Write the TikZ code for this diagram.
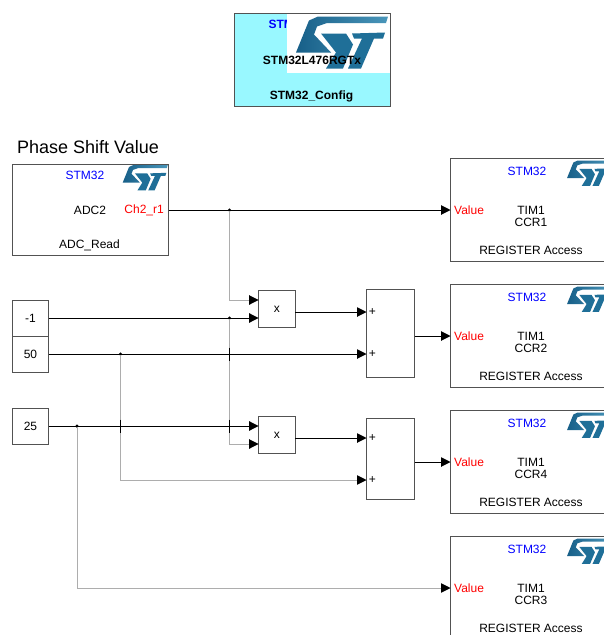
\documentclass[tikz,border=0pt]{standalone}
\usepackage{fontspec}
\setmainfont{Liberation Sans}
\usepackage{tikz}
\usetikzlibrary{arrows.meta}
\definecolor{stblue}{HTML}{1F6F98}
\definecolor{stdark}{HTML}{175F88}
\definecolor{stlight}{HTML}{4A96BA}
\definecolor{cfgcyan}{HTML}{99F8FF}
\tikzset{
  block/.style={draw=black!68,fill=white,line width=.9pt,inner sep=0pt,outer sep=0pt,minimum width=#1},
  txt/.style={inner sep=0pt,font=\fontsize{12}{12}\selectfont},
  boldtxt/.style={inner sep=0pt,font=\fontsize{12}{12}\selectfont\bfseries},
  wire/.style={black,line width=1pt},
  graywire/.style={black!32,line width=.9pt},
  junc/.style={circle,fill=black,inner sep=0pt,minimum size=3.5pt},
  stlogo/.pic={
    \path[left color=stdark,right color=stlight] (92,0) -- (22,0) -- (13,4) -- (0,36) -- (35,36)
      -- (18,18) -- (21,10) -- (31,6.5) -- (90,6.5) -- cycle;
    \fill[stblue] (25,17) -- (50,17) -- (57,28) -- (47,52) -- (30,52) -- (40,36) -- cycle;
    \fill[stblue] (56,17) -- (89,16) -- (87,22) -- (78,22) -- (65,52) -- (52,52) -- (66,22) -- (58,22) -- cycle;
  }
}
\begin{document}
\begin{tikzpicture}[->,>={Triangle[length=9.5pt,width=9.5pt,color=black]},x=1pt,y=-1pt]
  \clip (0,0) rectangle (604,635);
  \node[block,fill=cfgcyan,minimum height=93pt,minimum width=156pt] (config) at (312.5,60) {};
  \node[boldtxt,text=blue] (cfgtitle) at (288,24) {STM32};
  \fill[white] (287,14) rectangle (390,73);
  \pic at (296,16.5) {stlogo};
  \node[boldtxt] (cfgchip) at (312,60) {STM32L476RGTx};
  \node[boldtxt] (cfgname) at (311.5,96) {STM32\_Config};

  \node[inner sep=0pt,font=\fontsize{18}{18}\selectfont,anchor=west] (title) at (17,147) {Phase Shift Value};

  \node[block,minimum height=91pt,minimum width=156pt] (adc) at (90.5,210) {};
  \pic[scale=.49] at (122.7,165) {stlogo};
  \node[txt,text=blue] (adchdr) at (85,175) {STM32};
  \node[txt] (adcname) at (90,210) {ADC2};
  \node[txt,text=red,anchor=east] (adcout) at (164,210) {Ch2\_r1};
  \node[txt] (adcfoot) at (89.5,245) {ADC\_Read};

  \foreach \name/\y/\ccr in {regA/210/CCR1,regB/336/CCR2,regC/462/CCR4,regD/588/CCR3}{
    \node[block,minimum height=103pt,minimum width=156pt] (\name) at (528.5,\y) {};
    \pic[scale=.49] at (567,\y-49.5) {stlogo};
    \node[txt,text=blue] (\name hdr) at (527,\y-39) {STM32};
    \node[txt,text=red,anchor=west] (\name val) at (454,\y) {Value};
    \node[txt] (\name tim) at (531,\y) {TIM1};
    \node[txt] (\name ccr) at (531,\y+12) {\ccr};
    \node[txt] (\name foot) at (531,\y+40) {REGISTER Access};
  }

  \node[block,minimum width=36pt,minimum height=36pt] (minus) at (30.5,318) {};
  \node[txt] (minustxt) at (minus) {-1};
  \node[block,minimum width=36pt,minimum height=36pt] (fifty) at (30.5,354) {};
  \node[txt] (fiftytxt) at (fifty) {50};
  \node[block,minimum width=36pt,minimum height=36pt] (quarter) at (30.5,426) {};
  \node[txt] (quartertxt) at (quarter) {25};

  \node[block,minimum width=36.5pt,minimum height=37pt] (multA) at (276.8,309) {};
  \node[txt] (multAtxt) at (multA) {x};
  \node[block,minimum width=36.5pt,minimum height=37pt] (multB) at (276.8,435) {};
  \node[txt] (multBtxt) at (multB) {x};

  \node[block,minimum width=48pt,minimum height=88pt] (sumA) at (390.5,333) {};
  \node[txt] (sumAa) at (372.5,312) {+};
  \node[txt] (sumAb) at (372.5,354) {+};
  \node[block,minimum width=48pt,minimum height=81pt] (sumB) at (390.5,458.8) {};
  \node[txt] (sumBa) at (372.5,438) {+};
  \node[txt] (sumBb) at (372.5,480) {+};

  \coordinate (multAa) at (multA.west |- 0,300);
  \coordinate (multBb) at (multB.west |- 0,444);
  \coordinate (inAa) at (sumA.west |- sumAa);
  \coordinate (inBa) at (sumB.west |- sumBa);
  \coordinate (inBb) at (sumB.west |- sumBb);

  \node[junc] (jadc) at (229.5,210) {};
  \node[junc] (jminus) at (229.5,318) {};
  \node[junc] (jfifty) at (120.5,354) {};
  \node[junc] (jquarter) at (77,426) {};
  \coordinate (crossA) at (229.5,354);
  \coordinate (crossB) at (120.5,426);
  \coordinate (crossC) at (229.5,426);

  \draw[graywire] (jadc.center) -- (jadc.center |- multAa) -- (multAa);
  \draw[graywire] (jminus.center) -- (jminus.center |- multBb) -- (multBb);
  \draw[graywire] (jfifty.center) -- (jfifty.center |- inBb) -- (inBb);
  \draw[graywire] (jquarter.center) -- (jquarter.center |- regD.west) -- (regD.west);

  \draw[wire] (adc.east) -- (regA.west);
  \draw[wire] (minus.east) -- (multA.west |- minus.east);
  \draw[wire] (fifty.east) -- (sumA.west |- fifty.east);
  \draw[wire] (quarter.east) -- (multB.west |- quarter.east);
  \draw[wire] (multA.east |- inAa) -- (inAa);
  \draw[wire] (multB.east |- inBa) -- (inBa);
  \draw[wire] (sumA.east |- regB.west) -- (regB.west);
  \draw[wire] (sumB.east |- regC.west) -- (regC.west);
  \foreach \c in {crossA,crossB,crossC}
    \draw[black,line width=.7pt,-] (\c) ++(0,-6.5) -- ++(0,13);
\end{tikzpicture}
\end{document}
